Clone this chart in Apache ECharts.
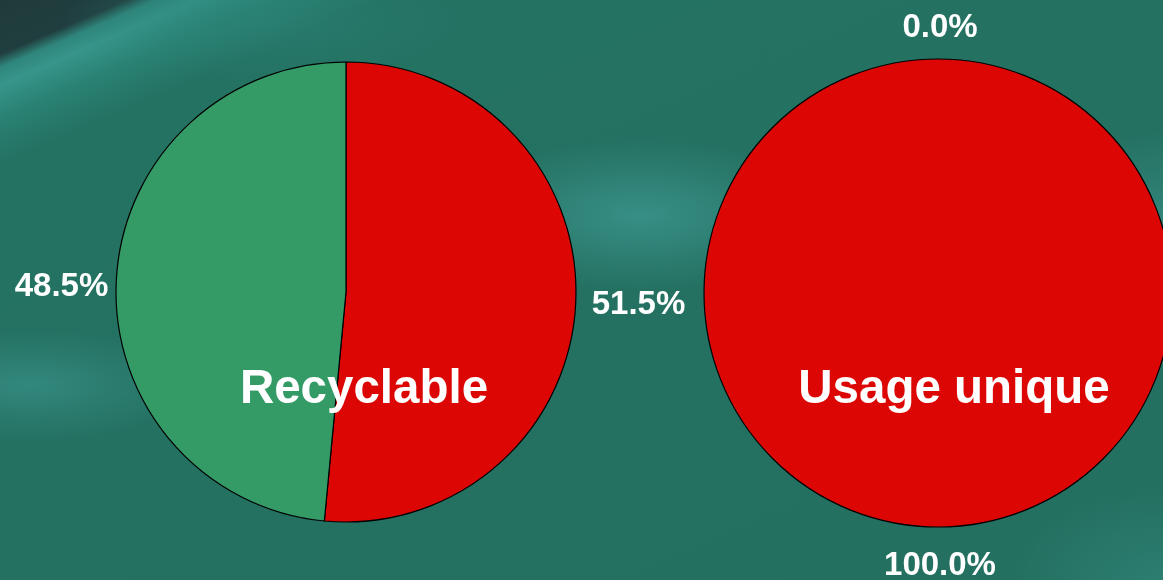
<!DOCTYPE html>
<html><head><meta charset="utf-8">
<script src="https://cdn.jsdelivr.net/npm/echarts@6/dist/echarts.min.js"></script>
<style>
html,body{margin:0;padding:0;width:1163px;height:580px;overflow:hidden;}
body{background:
 radial-gradient(ellipse 190px 75px at 640px 215px, rgba(58,146,138,0.9), rgba(58,146,138,0) 100%),
 radial-gradient(ellipse 170px 55px at 30px 385px, rgba(52,138,128,0.9), rgba(52,138,128,0) 100%),
 radial-gradient(ellipse 120px 90px at 1163px 220px, rgba(52,138,128,0.8), rgba(52,138,128,0) 100%),
 radial-gradient(ellipse 150px 90px at 1163px 580px, rgba(46,130,118,0.8), rgba(46,130,118,0) 100%),
 radial-gradient(ellipse 200px 60px at 260px 20px, rgba(42,130,118,0.6), rgba(42,130,118,0) 100%),
 linear-gradient(156.7deg, #1f3a3b 0px, #213e3f 50px, #2f857b 62px, #37958b 78px, #2a8274 108px, #247262 150px, #247060 100%);}
#c{width:1163px;height:580px;}
</style></head><body><div id="c"></div>
<script>
const recyclableNames = ['Non', 'Oui'];
const recyclableValues = [51.5, 48.5];
const uniqueNames = ['Oui', 'Non'];
const uniqueValues = [0.0, 100.0];
const pieTitles = ['Recyclable', 'Usage unique'];
const colorsRecyclable = ['#dc0704', '#349a66'];
const colorsUnique = ['#dc0704', '#dc0704'];

const FONT = 'Liberation Sans, Arial, sans-serif';
const chart = echarts.init(document.getElementById('c'), null, {renderer:'canvas'});
const labelStyle = {
  show: true, position: 'outside', color: '#ffffff', fontSize: 33, fontWeight: 'bold',
  fontFamily: FONT,
  formatter: p => p.value.toFixed(1) + '%'
};
function mk(names, values, colors, center, radius, len, layout){
  return {
    type: 'pie', center: center, radius: radius, startAngle: 90, clockwise: true,
    avoidLabelOverlap: false, silent: true, animation: false,
    minShowLabelAngle: -1,
    itemStyle: { borderColor: '#000', borderWidth: 1.2 },
    label: labelStyle,
    labelLine: { show: false, length: len, length2: 0 },
    labelLayout: layout,
    data: names.map((n, i) => ({ name: n, value: values[i], itemStyle: { color: colors[i] } }))
  };
}
chart.setOption({
  backgroundColor: 'transparent',
  title: [
    { text: pieTitles[0], left: 359, top: 385, textAlign: 'center', textVerticalAlign: 'middle',
      textStyle: { color: '#fff', fontSize: 47.5, fontWeight: 'bold', fontFamily: FONT } },
    { text: pieTitles[1], left: 949, top: 385, textAlign: 'center', textVerticalAlign: 'middle',
      textStyle: { color: '#fff', fontSize: 47.5, fontWeight: 'bold', fontFamily: FONT } }
  ],
  series: [
    mk(recyclableNames, recyclableValues, colorsRecyclable, [346, 292], 230, 10,
       p => p.dataIndex === 1 ? { dx: 7, dy: 6 } : { dx: 1, dy: 2 }),
    mk(uniqueNames, uniqueValues, colorsUnique, [938, 293], 234, 34,
       p => ({ align: 'center', dx: 7, dy: p.dataIndex === 0 ? 3 : 5 }))
  ]
});
</script></body></html>
